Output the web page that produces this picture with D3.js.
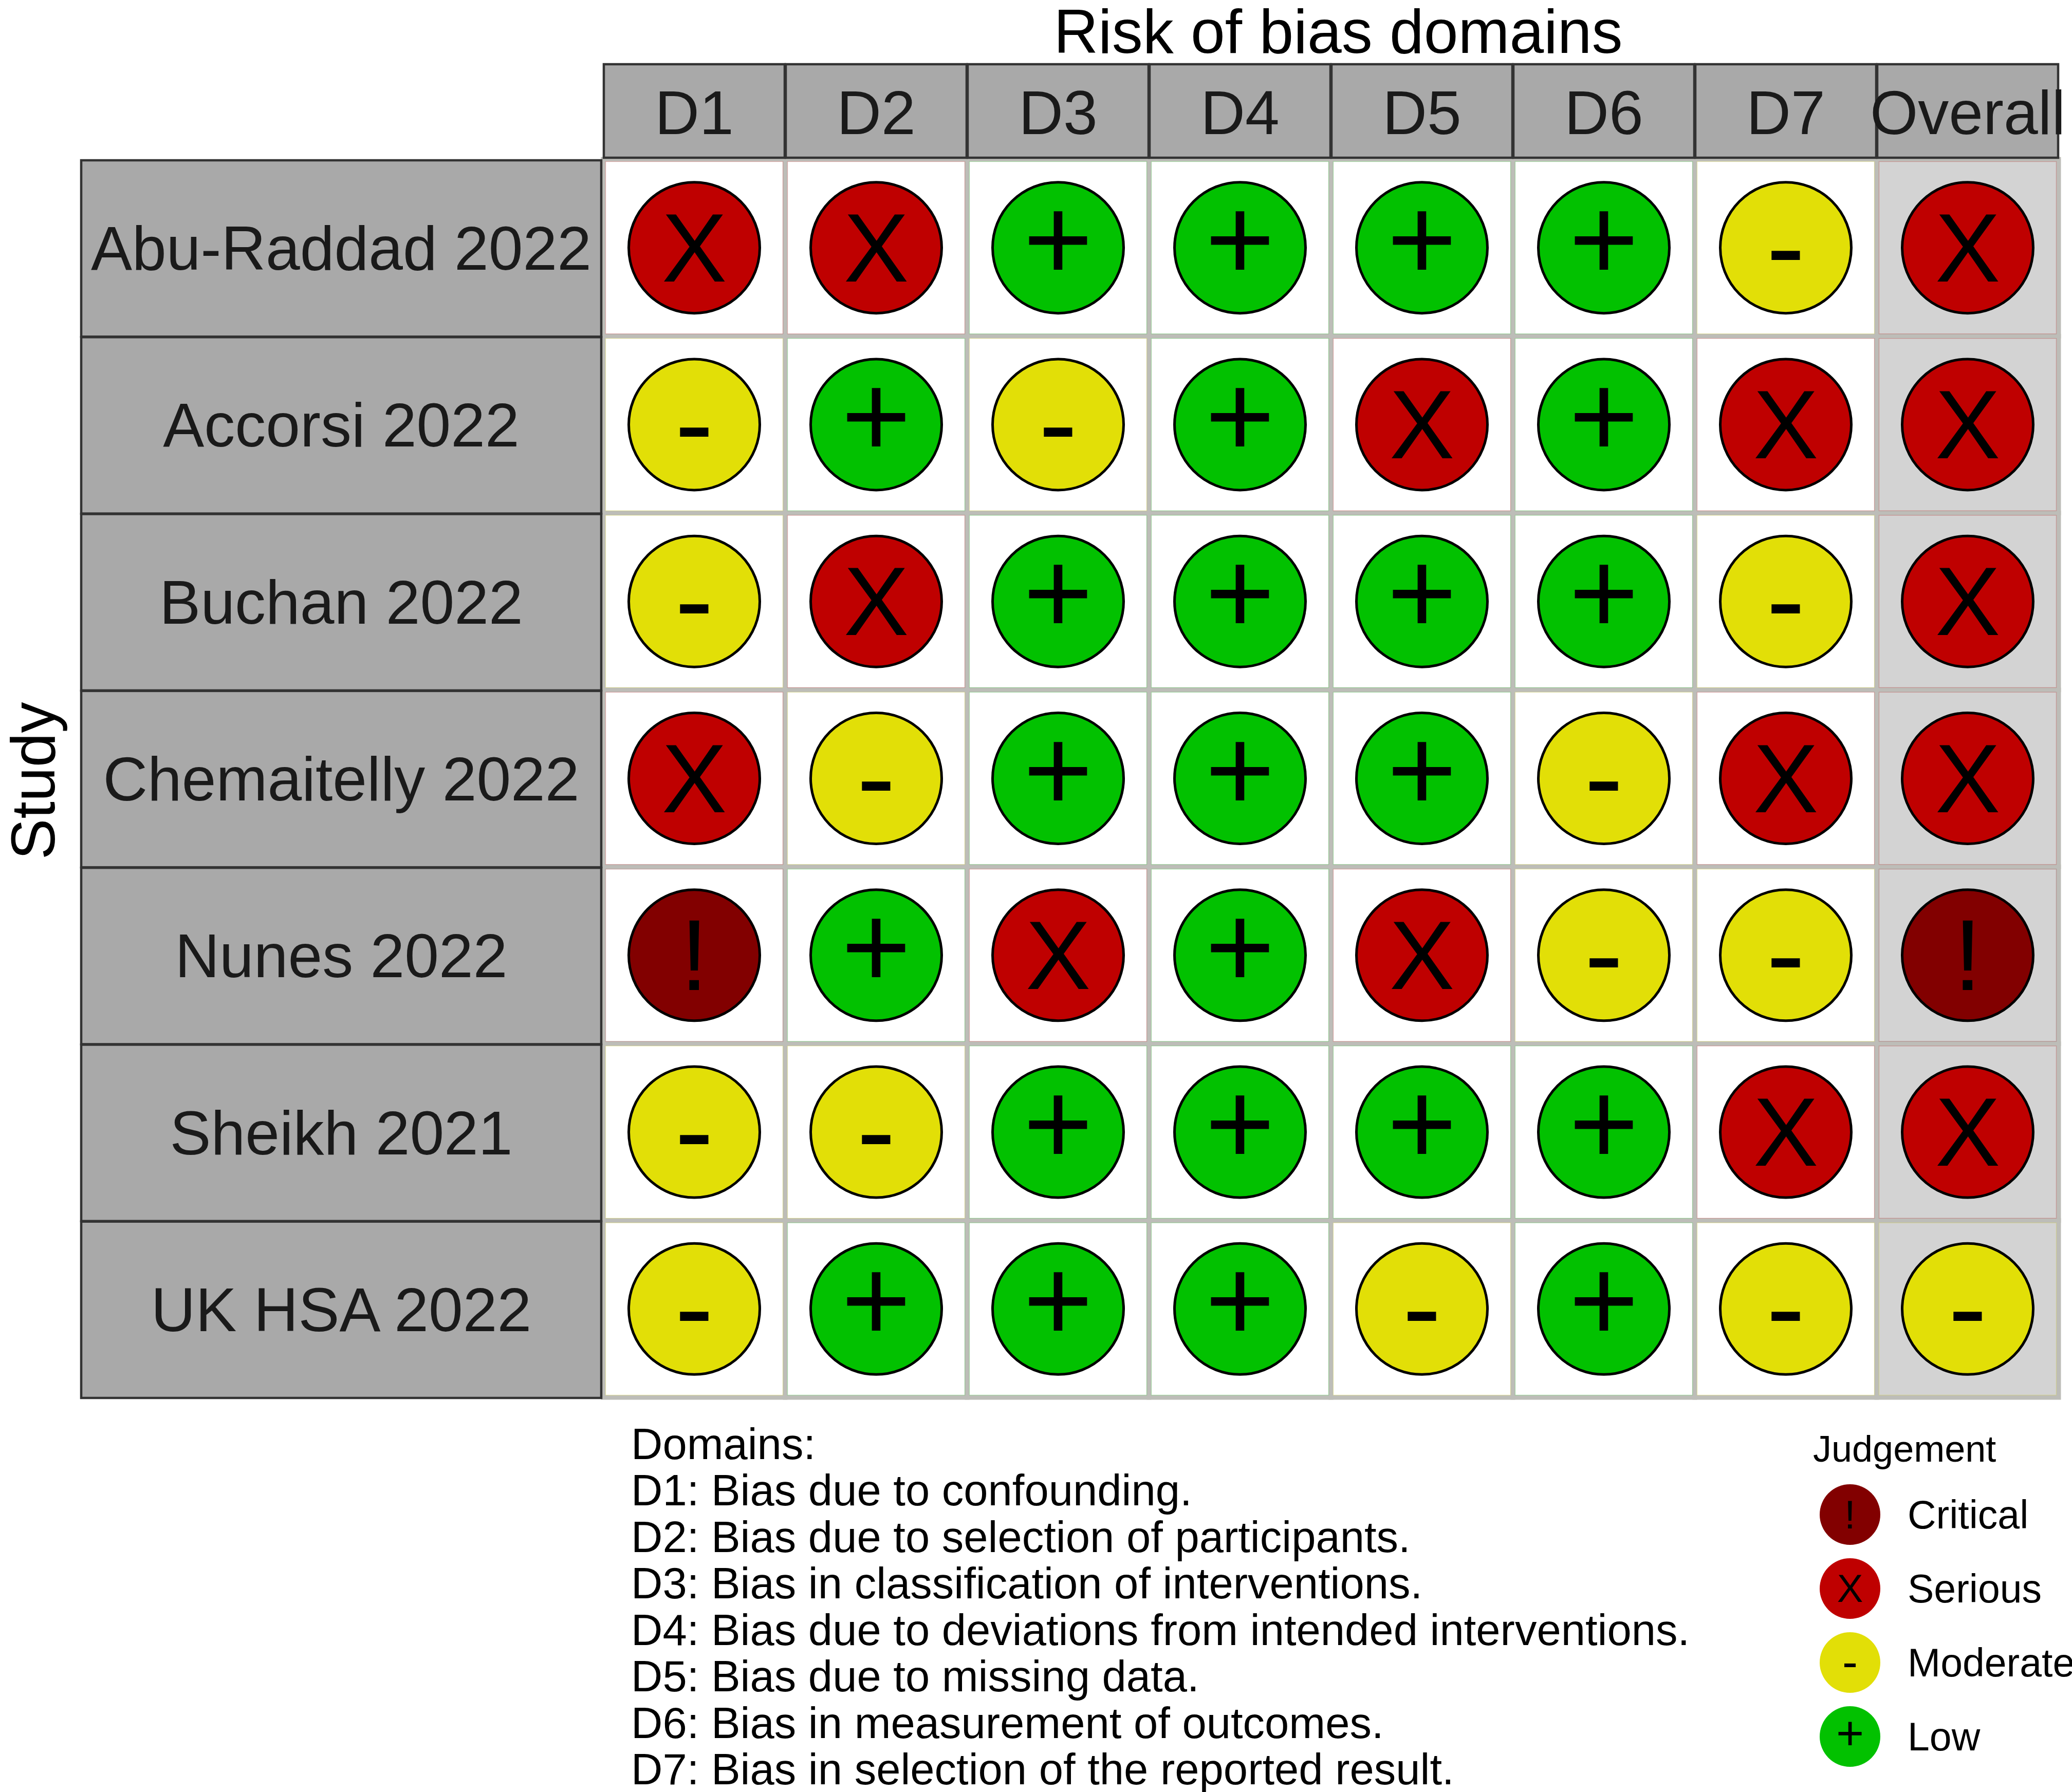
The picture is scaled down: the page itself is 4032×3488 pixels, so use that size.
<!DOCTYPE html>
<html><head><meta charset="utf-8">
<script src="https://cdn.jsdelivr.net/npm/d3@7"></script>
<style>html,body{margin:0;padding:0;background:#fff}svg{display:block}text{font-family:"Liberation Sans",Arial,sans-serif}</style>
</head><body>
<script>
const studies = ["Abu-Raddad 2022","Accorsi 2022","Buchan 2022","Chemaitelly 2022","Nunes 2022","Sheikh 2021","UK HSA 2022"];
const domains = ["D1","D2","D3","D4","D5","D6","D7","Overall"];
const D1 = ["Serious","Moderate","Moderate","Serious","Critical","Moderate","Moderate"];
const D2 = ["Serious","Low","Serious","Moderate","Low","Moderate","Low"];
const D3v = ["Low","Moderate","Low","Low","Serious","Low","Low"];
const D4 = ["Low","Low","Low","Low","Low","Low","Low"];
const D5 = ["Low","Serious","Low","Low","Serious","Low","Moderate"];
const D6 = ["Low","Low","Low","Moderate","Moderate","Low","Low"];
const D7 = ["Moderate","Serious","Moderate","Serious","Moderate","Serious","Moderate"];
const Overall = ["Serious","Serious","Serious","Serious","Critical","Serious","Moderate"];
const judgementLevels = ["Critical","Serious","Moderate","Low"];
const judgementColors = ["#820000","#BF0000","#E2DF07","#02C100"];
const judgementSymbols = ["!","X","-","+"];
const domainNotes = ["Domains:","D1: Bias due to confounding.","D2: Bias due to selection of participants.","D3: Bias in classification of interventions.","D4: Bias due to deviations from intended interventions.","D5: Bias due to missing data.","D6: Bias in measurement of outcomes.","D7: Bias in selection of the reported result."];
const columns = [D1,D2,D3v,D4,D5,D6,D7,Overall];

const W=4032,H=3488;
const svg=d3.select("body").append("svg").attr("width",W).attr("height",H).attr("viewBox",`0 0 ${W} ${H}`);
const x=d3.scaleBand().domain(domains).range([1174,4006]);
const y=d3.scaleBand().domain(studies).range([310,2720]);
const color=d3.scaleOrdinal(judgementLevels,judgementColors);
const symbol=d3.scaleOrdinal(judgementLevels,judgementSymbols);
const symSize=d3.scaleOrdinal(judgementLevels,[196,190,226,232]);
const symDy=d3.scaleOrdinal(judgementLevels,[".345em",".345em",".33em",".27em"]);

const cells=[];
columns.forEach((c,i)=>c.forEach((j,k)=>cells.push({domain:domains[i],study:studies[k],j})));

// panel backgrounds and grid
svg.append("g").selectAll("rect").data(cells).join("rect")
  .attr("x",d=>x(d.domain)).attr("y",d=>y(d.study))
  .attr("width",x.bandwidth()).attr("height",y.bandwidth())
  .attr("fill",d=>d.domain==="Overall"?"#d3d3d3":"#ffffff")
  .attr("stroke","#bdbdb8").attr("stroke-width",9);
svg.append("g").selectAll("rect").data(cells).join("rect")
  .attr("x",d=>x(d.domain)+4.5).attr("y",d=>y(d.study)+4.5)
  .attr("width",x.bandwidth()-9).attr("height",y.bandwidth()-9)
  .attr("fill","none").attr("stroke",d=>color(d.j)).attr("stroke-opacity",.22).attr("stroke-width",1.5);

// points
svg.append("g").selectAll("circle").data(cells).join("circle")
  .attr("cx",d=>x(d.domain)+x.bandwidth()/2).attr("cy",d=>y(d.study)+y.bandwidth()/2)
  .attr("r",127.5).attr("fill",d=>color(d.j)).attr("stroke","#000").attr("stroke-width",5);
svg.append("g").selectAll("text").data(cells).join("text")
  .attr("x",d=>x(d.domain)+x.bandwidth()/2).attr("y",d=>y(d.study)+y.bandwidth()/2)
  .attr("text-anchor","middle").attr("font-size",d=>symSize(d.j)).attr("dy",d=>symDy(d.j))
  .attr("fill","#000").text(d=>symbol(d.j));

// strips
const strip="#a9a9a9",stripLine="#333333",stripText="#1a1a1a";
const topStrip=svg.append("g");
topStrip.selectAll("rect").data(domains).join("rect")
  .attr("x",d=>x(d)+1).attr("y",125).attr("width",x.bandwidth()-2).attr("height",182)
  .attr("fill",strip).attr("stroke",stripLine).attr("stroke-width",4.5);
topStrip.selectAll("text").data(domains).join("text")
  .attr("x",d=>x(d)+x.bandwidth()/2).attr("y",261).attr("text-anchor","middle")
  .attr("font-size",120).attr("fill",stripText).text(d=>d);
const leftStrip=svg.append("g");
leftStrip.selectAll("rect").data(studies).join("rect")
  .attr("x",158).attr("y",d=>y(d)+2).attr("width",1012).attr("height",y.bandwidth()-1)
  .attr("fill",strip).attr("stroke",stripLine).attr("stroke-width",4.5);
leftStrip.selectAll("text").data(studies).join("text")
  .attr("x",664).attr("y",d=>y(d)+y.bandwidth()/2+43).attr("text-anchor","middle")
  .attr("font-size",120).attr("fill",stripText).text(d=>d);

// titles
svg.append("text").attr("x",2604).attr("y",103).attr("text-anchor","middle").attr("font-size",120).attr("fill","#000").text("Risk of bias domains");
svg.append("text").attr("transform","translate(106,1520) rotate(-90)").attr("text-anchor","middle").attr("font-size",120).attr("fill","#000").text("Study");

// domain notes
const noteY=d3.scalePoint().domain(domainNotes).range([2840,3473]);
svg.append("g").selectAll("text").data(domainNotes).join("text")
  .attr("x",1228).attr("y",d=>noteY(d)).attr("font-size",85).attr("fill","#000").text(d=>d);

// legend
svg.append("text").attr("x",3528).attr("y",2845).attr("font-size",72).attr("fill","#000").text("Judgement");
const ly=d3.scalePoint().domain(judgementLevels).range([2948,3380]);
const lg=svg.append("g");
lg.selectAll("circle").data(judgementLevels).join("circle")
  .attr("cx",3600).attr("cy",d=>ly(d)).attr("r",59).attr("fill",d=>color(d));
lg.selectAll("text.s").data(judgementLevels).join("text").attr("class","s")
  .attr("x",3600).attr("y",d=>ly(d)).attr("text-anchor","middle")
  .attr("font-size",d=>symSize(d)*0.4).attr("dy",d=>symDy(d)).attr("fill","#000").text(d=>symbol(d));
lg.selectAll("text.l").data(judgementLevels).join("text").attr("class","l")
  .attr("x",3712).attr("y",d=>ly(d)+27).attr("font-size",77).attr("fill","#000").text(d=>d);
</script>
</body></html>
